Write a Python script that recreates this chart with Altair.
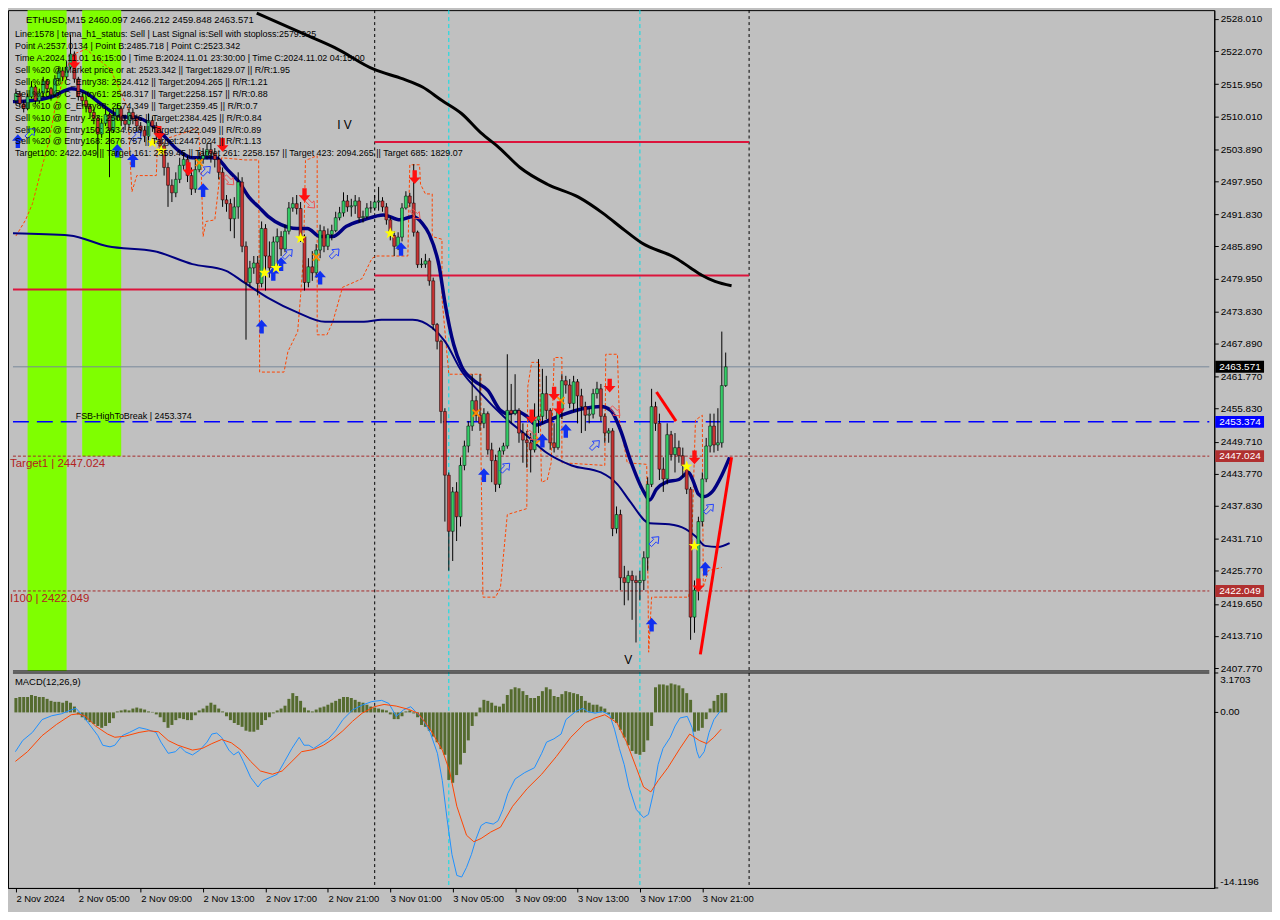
import altair as alt
import pandas as pd

# ---------------- data ----------------
first_open = 2512.9
closes = [2514.2, 2512.3, 2511.4, 2513.6, 2515.4, 2512.9, 2514.3, 2516.5, 2515.1, 2514.0,
          2516.9, 2518.4, 2517.3, 2519.1, 2521.5, 2516.9, 2513.6, 2512.9, 2511.8, 2510.7,
          2509.6, 2506.7, 2508.7, 2510.3, 2507.4, 2510.0, 2511.4, 2509.2, 2508.5, 2510.7,
          2509.6, 2508.2, 2507.4, 2506.3, 2509.2, 2508.2, 2506.7, 2504.5, 2500.5, 2497.2,
          2495.8, 2498.3, 2500.9, 2502.0, 2499.0, 2496.5, 2500.1, 2502.1, 2502.7, 2503.8,
          2503.1, 2502.0, 2499.6, 2494.5, 2493.8, 2491.0, 2493.2, 2497.8, 2485.9, 2479.2,
          2481.9, 2482.8, 2479.0, 2489.2, 2484.1, 2481.9, 2486.7, 2487.7, 2485.4, 2488.7,
          2493.0, 2493.8, 2492.9, 2487.7, 2479.2, 2482.1, 2481.0, 2485.2, 2488.8, 2485.9,
          2488.1, 2488.8, 2491.2, 2492.1, 2494.3, 2493.2, 2493.4, 2494.3, 2491.2, 2491.4,
          2493.0, 2493.0, 2494.1, 2494.3, 2493.2, 2490.8, 2487.9, 2485.9, 2487.6, 2493.0,
          2495.2, 2493.9, 2488.5, 2482.5, 2482.6, 2483.2, 2479.5, 2471.4, 2468.3, 2455.3,
          2443.5, 2433.1, 2440.4, 2435.8, 2445.3, 2448.9, 2452.6, 2457.3, 2454.6, 2453.1,
          2454.9, 2448.2, 2446.2, 2441.8, 2448.0, 2448.9, 2455.5, 2454.9, 2455.5, 2451.3,
          2450.0, 2449.5, 2448.2, 2453.7, 2454.4, 2458.6, 2455.5, 2449.5, 2448.6, 2455.5,
          2461.0, 2460.2, 2456.8, 2460.8, 2458.2, 2456.2, 2454.6, 2454.8, 2458.6, 2459.5,
          2454.4, 2451.3, 2451.7, 2433.6, 2436.2, 2424.5, 2423.6, 2424.9, 2424.0, 2423.6,
          2424.0, 2428.2, 2441.8, 2456.2, 2453.1, 2444.6, 2442.8, 2451.0, 2447.3, 2448.6,
          2447.1, 2445.3, 2440.9, 2417.2, 2422.2, 2434.9, 2442.8, 2448.9, 2452.6, 2449.1,
          2449.5, 2460.097, 2463.571]
highs = [2515.1, 2514.7, 2512.9, 2514.2, 2516.5, 2515.8, 2515.1, 2517.3, 2516.9, 2515.4,
         2517.6, 2519.1, 2519.1, 2520.2, 2525.1, 2522.0, 2517.3, 2514.2, 2513.6, 2512.3,
         2511.4, 2510.0, 2509.6, 2511.4, 2510.7, 2511.4, 2512.3, 2511.8, 2510.3, 2511.4,
         2511.4, 2510.3, 2508.9, 2508.2, 2510.5, 2510.0, 2508.9, 2507.4, 2505.1, 2501.4,
         2498.3, 2499.6, 2502.3, 2503.2, 2502.7, 2500.5, 2502.3, 2503.4, 2504.1, 2504.9,
         2505.1, 2504.1, 2502.7, 2500.5, 2495.4, 2494.7, 2495.0, 2499.6, 2498.7, 2486.8,
         2483.2, 2484.1, 2484.1, 2490.5, 2490.0, 2486.8, 2487.7, 2489.2, 2488.7, 2489.9,
         2494.1, 2495.0, 2495.4, 2494.1, 2488.1, 2483.7, 2485.0, 2486.3, 2489.9, 2489.6,
         2489.2, 2489.9, 2492.3, 2493.2, 2495.9, 2495.4, 2494.7, 2495.4, 2495.0, 2492.5,
         2493.9, 2494.3, 2495.4, 2496.9, 2495.0, 2493.9, 2491.4, 2488.7, 2488.5, 2493.9,
         2496.1, 2495.8, 2501.1, 2488.8, 2483.7, 2484.5, 2483.7, 2480.1, 2471.7, 2468.6,
         2455.9, 2444.0, 2441.3, 2442.2, 2446.8, 2449.9, 2453.5, 2462.2, 2458.2, 2462.2,
         2455.9, 2455.3, 2449.5, 2447.3, 2448.6, 2449.5, 2465.9, 2460.4, 2462.2, 2455.9,
         2453.1, 2451.7, 2451.3, 2456.8, 2465.0, 2463.2, 2461.9, 2455.9, 2453.1, 2456.8,
         2462.2, 2461.9, 2461.3, 2461.9, 2461.3, 2459.5, 2457.1, 2455.9, 2459.5, 2460.8,
         2460.4, 2454.9, 2452.2, 2452.2, 2437.7, 2437.1, 2426.7, 2425.8, 2425.8, 2424.9,
         2425.8, 2429.4, 2443.1, 2459.5, 2457.1, 2454.9, 2446.8, 2453.1, 2451.7, 2451.3,
         2449.9, 2448.6, 2445.8, 2441.3, 2424.0, 2435.8, 2444.0, 2450.4, 2454.9, 2454.9,
         2455.9, 2470.1, 2466.212]
lows = [2512.2, 2511.8, 2510.7, 2511.1, 2513.3, 2512.2, 2512.3, 2513.6, 2514.3, 2512.9,
        2513.6, 2516.5, 2516.5, 2516.9, 2518.7, 2516.2, 2512.9, 2511.8, 2510.7, 2509.6,
        2508.5, 2502.3, 2506.0, 2508.2, 2498.7, 2506.9, 2509.2, 2508.2, 2507.4, 2507.8,
        2508.5, 2507.1, 2506.3, 2505.2, 2505.6, 2507.1, 2505.6, 2503.2, 2499.0, 2493.2,
        2494.1, 2495.0, 2497.6, 2500.1, 2497.8, 2495.4, 2495.8, 2499.6, 2501.2, 2502.0,
        2501.4, 2500.5, 2498.3, 2493.2, 2492.3, 2488.7, 2487.4, 2491.0, 2484.8, 2468.6,
        2478.3, 2480.8, 2476.8, 2478.3, 2477.7, 2480.1, 2480.8, 2481.9, 2484.1, 2484.8,
        2488.1, 2492.3, 2491.8, 2486.7, 2477.7, 2478.3, 2479.5, 2480.1, 2483.7, 2484.8,
        2485.2, 2487.0, 2488.5, 2490.7, 2491.4, 2492.3, 2491.4, 2491.9, 2490.3, 2490.3,
        2491.0, 2492.1, 2492.5, 2492.5, 2492.3, 2489.9, 2487.0, 2484.1, 2485.2, 2486.8,
        2492.7, 2493.2, 2487.7, 2481.9, 2481.9, 2481.9, 2478.6, 2470.4, 2466.8, 2453.1,
        2434.9, 2425.8, 2427.6, 2431.3, 2434.0, 2444.4, 2447.7, 2451.7, 2453.5, 2451.7,
        2452.2, 2447.3, 2442.2, 2440.4, 2441.1, 2447.3, 2448.4, 2453.1, 2454.6, 2449.5,
        2445.8, 2444.9, 2444.0, 2447.7, 2451.3, 2453.1, 2453.9, 2448.2, 2447.7, 2448.2,
        2453.9, 2458.6, 2455.9, 2455.3, 2453.1, 2451.3, 2451.7, 2453.1, 2454.0, 2457.7,
        2453.5, 2449.5, 2449.5, 2432.2, 2432.7, 2422.2, 2419.4, 2420.3, 2416.7, 2412.5,
        2420.3, 2422.2, 2425.8, 2441.3, 2451.7, 2442.6, 2440.4, 2441.8, 2446.2, 2444.0,
        2445.8, 2443.1, 2440.0, 2413.0, 2414.3, 2420.3, 2434.0, 2442.2, 2447.7, 2447.7,
        2448.0, 2448.6, 2459.848]

x_tick_pos = [0, 16, 32, 48, 64, 80, 96, 112, 128, 144, 160, 176]
x_tick_labels = ["2 Nov 2024", "2 Nov 05:00", "2 Nov 09:00", "2 Nov 13:00", "2 Nov 17:00",
                 "2 Nov 21:00", "3 Nov 01:00", "3 Nov 05:00", "3 Nov 09:00", "3 Nov 13:00",
                 "3 Nov 17:00", "3 Nov 21:00"]
y_ticks = [2528.010, 2522.070, 2515.950, 2510.010, 2503.890, 2497.950, 2491.830, 2485.890,
           2479.950, 2473.830, 2467.890, 2461.770, 2455.830, 2449.710, 2443.770, 2437.830,
           2431.710, 2425.770, 2419.650, 2413.710, 2407.770]
macd_ticks = [3.1703, 0.0, -14.1196]
macd_tick_labels = ["3.1703", "0.00", "-14.1196"]

x_lo, x_hi = -0.75, 306.0
p_lo, p_hi = 2407.22, 2529.65
m_lo, m_hi = -14.1196, 3.1703

black_i = [61.75, 74.25, 81.75, 91.75, 99.25, 104.25, 109.25, 114.25, 119.25, 124.0, 129.25,
           136.25, 144.25, 150.75, 155.5, 160.5, 169.25, 173.0, 176.0, 179.25, 183.5]
black_p = [2529.1, 2525.1, 2522.7, 2518.7, 2516.9, 2515.4, 2512.9, 2510.5, 2506.9, 2504.1, 2500.5,
           2497.4, 2495.0, 2491.9, 2489.2, 2486.5, 2483.7, 2481.9, 2480.5, 2479.4, 2478.6]

fast_i = [-0.75, 4.25, 9.25, 14.25, 18.0, 21.75, 26.75, 31.75, 36.75, 41.75, 45.25, 51.25, 54.25,
          57.25, 59.75, 62.25, 64.75, 68.0, 72.0, 74.75, 78.0, 81.25, 84.75, 89.25, 94.25, 98.5,
          101.75, 104.25, 106.0, 108.5, 110.0, 112.25, 114.25, 117.5, 121.0, 124.25, 126.0, 128.5,
          131.0, 133.5, 136.75, 141.0, 146.0, 150.0, 152.5, 155.0, 157.5, 161.0, 162.5, 164.25,
          166.75, 170.0, 172.5, 173.5, 175.0, 176.25, 178.5, 181.0, 183.0]
fast_p = [2512.7, 2512.9, 2513.6, 2515.1, 2514.3, 2512.3, 2510.0, 2509.6, 2507.2, 2503.6, 2502.3,
          2502.3, 2500.1, 2497.8, 2495.0, 2493.2, 2491.4, 2489.9, 2489.2, 2489.2, 2487.7, 2487.7,
          2489.6, 2490.8, 2491.7, 2490.8, 2491.4, 2490.1, 2488.1, 2482.3, 2475.5, 2467.7, 2463.7,
          2461.0, 2459.2, 2455.5, 2454.9, 2455.3, 2454.4, 2452.8, 2453.7, 2454.9, 2455.9, 2456.2,
          2455.5, 2451.9, 2446.4, 2440.4, 2438.9, 2440.9, 2442.2, 2442.7, 2444.0, 2442.7, 2440.0,
          2439.5, 2440.4, 2443.5, 2446.8]

slow_i = [-0.75, 13.75, 23.5, 35.5, 45.25, 53.75, 58.5, 64.75, 72.0, 79.25, 89.25, 93.75, 101.75,
          106.75, 110.0, 114.25, 119.25, 125.0, 131.0, 136.0, 142.5, 150.0, 154.25, 157.5, 162.5,
          167.5, 171.75, 174.25, 176.75, 180.0, 183.0]
slow_p = [2488.3, 2487.9, 2485.9, 2485.0, 2482.6, 2481.4, 2479.2, 2476.3, 2473.7, 2471.9, 2471.9,
          2472.3, 2472.3, 2470.8, 2468.3, 2462.8, 2458.6, 2454.4, 2450.8, 2447.7, 2445.3, 2444.0,
          2441.8, 2438.6, 2434.6, 2434.4, 2433.5, 2432.2, 2430.4, 2430.2, 2430.9]

orange_i = [0, 2.5, 4.25, 6.0, 8.5, 10.0, 11.75, 13.5, 14.75, 18.0,
            24.25, 28.75, 29.25, 29.75, 31.0, 36.0, 36.25, 39.25, 43.0, 46.75,
            47.5, 48.0, 48.75, 51.0, 52.25, 52.75, 58.75, 62.25, 62.5, 68.75,
            69.75, 72.25, 73.0, 73.75, 74.25, 77.25, 77.25, 79.75, 81.25, 83.75,
            88.75, 91.25, 92.25, 100.5, 101.0, 103.5, 103.75, 105.0, 106.75, 106.75,
            109.25, 109.25, 111.0, 119.25, 119.25, 119.75, 123.0, 124.25, 126.0, 131.0,
            131.25, 132.25, 134.25, 134.75, 136.25, 137.25, 138.0, 140.0, 140.0, 151.0,
            151.25, 154.25, 154.75, 156.75, 161.75, 162.25, 163.0, 172.5, 173.0, 174.25,
            176.0, 176.25, 177.5, 181.0]
orange_p = [2487.8, 2490.8, 2493.8, 2498.7, 2505.4, 2511.4, 2516.0, 2519.6, 2521.5, 2522.4,
            2518.7, 2511.4, 2502.3, 2496.0, 2499.0, 2499.0, 2504.1, 2506.0, 2506.9, 2507.8,
            2500.5, 2487.7, 2490.5, 2490.8, 2498.7, 2502.3, 2501.9, 2501.9, 2462.6, 2462.6,
            2466.4, 2470.1, 2476.8, 2484.1, 2501.8, 2502.7, 2469.5, 2469.5, 2471.9, 2478.3,
            2479.9, 2483.6, 2484.1, 2484.1, 2501.0, 2501.0, 2497.4, 2495.6, 2495.6, 2487.7,
            2487.2, 2476.3, 2462.2, 2462.2, 2447.7, 2420.9, 2420.9, 2422.7, 2436.2, 2437.3,
            2459.9, 2464.4, 2464.4, 2442.2, 2442.6, 2445.8, 2465.3, 2465.3, 2445.8, 2445.3,
            2465.9, 2465.9, 2453.7, 2445.8, 2445.5, 2410.7, 2420.9, 2420.9, 2424.0, 2453.7,
            2454.6, 2422.7, 2425.8, 2426.4]

up_i = [0.5, 26.0, 30.0, 48.0, 63.0, 66.0, 68.0, 78.0, 98.75, 120.0, 135.0, 141.0, 163.0, 176.75]
up_p = [2505.4, 2503.6, 2501.8, 2496.3, 2471.0, 2480.8, 2482.6, 2480.1, 2485.4, 2443.5, 2449.9,
        2451.7, 2415.8, 2426.2]
down_i = [15.0, 36.75, 44.25, 53.0, 74.0, 102.25, 132.25, 138.0, 139.25, 152.25, 174.0, 175.0]
down_p = [2520.0, 2506.9, 2500.2, 2504.7, 2495.4, 2498.7, 2454.4, 2458.6, 2455.9, 2460.1, 2446.8,
          2423.1]
star_i = [35.0, 37.25, 63.75, 66.75, 73.0, 96.0, 172.0, 174.0]
star_p = [2505.1, 2503.6, 2481.0, 2481.9, 2487.4, 2488.3, 2445.1, 2430.4]
xmark_i = [47.0, 77.0, 118.0, 134.25, 139.75]
xmark_p = [2501.4, 2483.9, 2455.0, 2450.0, 2457.3]
hup_i = [3.75, 31.0, 48.75, 69.75, 81.75, 125.5, 148.5, 163.75, 177.75]
hup_p = [2506.9, 2506.3, 2499.9, 2484.5, 2484.6, 2444.9, 2449.1, 2431.3, 2437.3]
hdn_i = [54.75, 75.5, 102.5, 132.5, 153.75]
hdn_p = [2498.1, 2493.8, 2491.8, 2450.8, 2455.3]

trend_id = [0, 0, 1, 1]
trend_i = [164.25, 169.25, 175.5, 183.5]
trend_p = [2458.9, 2453.5, 2410.3, 2446.8]

seg_x0 = [-0.75, 92, 92]
seg_x1 = [92, 188, 188]
seg_p = [2477.9, 2505.2, 2480.5]

band_x0 = [3, 17]
band_x1 = [13, 27]
band_bottom = [2407.22, 2447.024]
band_top = [2529.65, 2529.65]

day_sep = [92, 188]
cyan_sep = [111, 160]

current_price = 2463.571
fsb_level = 2453.374
target1 = 2447.024
target100 = 2422.049

hist = [1.16, 1.24, 1.24, 1.24, 1.40, 1.32, 1.24, 1.24, 1.09, 0.93,
        0.85, 0.85, 0.78, 0.93, 0.78, 0.47, -0.16, -0.39, -0.62, -0.78,
        -0.93, -1.09, -1.24, -1.09, -0.85, -0.47, 0.08, 0.16, 0.23, 0.16,
        0.31, 0.39, 0.31, 0.23, 0.08, 0.04, -0.16, -0.39, -0.78, -1.24,
        -1.01, -0.62, -0.47, -0.54, -0.62, -0.62, -0.23, 0.16, 0.31, 0.54,
        0.78, 0.62, 0.31, 0.08, -0.31, -0.62, -0.85, -1.01, -1.16, -1.47,
        -1.55, -1.55, -1.40, -1.01, -0.62, -0.39, -0.08, 0.16, 0.31, 0.54,
        1.09, 1.55, 1.32, 0.93, 0.39, 0.16, 0.08, 0.23, 0.39, 0.47,
        0.62, 0.78, 0.93, 1.09, 1.24, 1.24, 1.16, 1.01, 0.85, 0.78,
        0.62, 0.47, 0.39, 0.31, 0.23, 0.16, -0.16, -0.54, -0.54, -0.31,
        0.08, 0.16, -0.08, -0.39, -1.01, -1.16, -1.47, -1.94, -2.40, -2.95,
        -3.41, -5.43, -5.66, -5.04, -4.19, -3.26, -2.25, -1.09, -0.31, 0.39,
        1.01, 0.93, 0.78, 0.54, 0.47, 0.70, 1.40, 1.86, 2.02, 1.94,
        1.71, 1.40, 1.16, 1.16, 1.32, 1.71, 2.02, 1.86, 1.32, 1.24,
        1.47, 1.71, 1.63, 1.55, 1.47, 1.32, 0.93, 0.78, 0.62, 0.62,
        0.47, 0.31, -0.16, -0.54, -0.85, -1.40, -2.02, -2.64, -3.10, -3.33,
        -3.41, -3.18, -2.25, -1.09, 2.02, 2.25, 2.25, 2.17, 2.33, 2.25,
        2.17, 1.94, 1.55, 1.01, -1.55, -1.47, -1.24, -0.54, 0.31, 0.93,
        1.40, 1.55, 1.55]

blue_i = [-0.13, 1.74, 4.23, 6.71, 9.20, 11.69, 14.18, 15.42, 17.28, 19.15,
          21.02, 22.26, 24.13, 25.37, 27.24, 29.10, 31.59, 33.45, 35.94, 37.19,
          39.05, 40.92, 42.16, 43.40, 45.27, 47.14, 49.00, 50.24, 51.49, 52.73,
          54.60, 55.84, 57.09, 58.33, 60.19, 62.06, 63.30, 65.17, 67.04, 68.90,
          70.77, 72.63, 73.88, 75.12, 76.36, 78.23, 80.10, 81.96, 83.83, 86.32,
          88.80, 91.29, 93.78, 95.64, 97.51, 99.37, 101.24, 102.48, 104.35, 106.22,
          108.08, 109.33, 110.57, 111.81, 113.06, 114.30, 115.55, 116.79, 118.03, 119.28,
          120.52, 122.39, 123.63, 124.87, 126.12, 127.99, 130.47, 132.96, 134.82, 136.07,
          137.93, 139.80, 141.04, 143.53, 145.39, 146.64, 148.51, 150.37, 152.24, 153.48,
          154.73, 155.97, 157.21, 159.08, 160.94, 162.19, 163.43, 164.67, 165.92, 167.79,
          169.03, 170.27, 172.14, 173.38, 174.63, 175.25, 176.49, 177.74, 178.98, 180.84]
blue_v = [-3.16, -2.26, -1.61, -0.58, -0.27, -0.11, 0.20, 0.33, -0.32, -1.09,
          -1.87, -2.64, -2.77, -2.64, -1.87, -1.61, -1.22, -1.35, -1.61, -2.39,
          -3.29, -3.16, -2.77, -3.16, -3.42, -3.03, -2.39, -1.74, -1.66, -2.00,
          -3.03, -3.42, -3.16, -3.94, -5.23, -6.00, -5.49, -5.23, -4.97, -3.94,
          -2.90, -2.00, -2.64, -2.64, -2.90, -2.51, -2.13, -1.48, -0.58, 0.20,
          0.59, 0.87, 0.97, 0.72, -0.32, 0.20, 0.46, 0.07, -0.58, -1.61,
          -3.29, -5.49, -8.59, -11.43, -13.11, -13.24, -12.46, -11.43, -10.14, -9.10,
          -8.85, -8.98, -8.72, -7.81, -6.52, -5.36, -4.84, -4.45, -3.29, -2.39,
          -2.13, -1.74, -0.58, 0.07, 0.33, 0.07, -0.06, 0.07, -0.19, -1.35,
          -2.90, -4.19, -6.00, -7.81, -8.46, -8.20, -6.52, -4.19, -2.90, -2.00,
          -1.09, -0.45, -0.32, -1.22, -3.16, -3.68, -3.16, -1.61, -0.58, 0.20]
red_i = [-0.13, 2.98, 6.71, 10.44, 14.18, 16.04, 17.91, 20.39, 23.50, 25.37,
         27.86, 31.59, 34.08, 36.56, 39.05, 41.54, 45.27, 47.76, 50.24, 52.73,
         55.22, 57.71, 60.19, 62.68, 65.79, 68.28, 70.77, 73.26, 76.36, 78.85,
         81.34, 83.83, 86.32, 88.80, 91.91, 94.40, 97.51, 100.62, 103.11, 106.22,
         109.33, 111.19, 113.06, 115.55, 117.41, 119.28, 121.76, 124.25, 127.36, 131.09,
         134.82, 138.56, 142.29, 146.02, 148.51, 151.00, 154.10, 156.59, 159.08, 160.94,
         162.81, 164.67, 167.16, 170.27, 172.76, 175.25, 177.12, 178.98, 180.84]
red_v = [-3.94, -3.16, -1.87, -0.96, -0.19, -0.11, -0.32, -1.09, -1.74, -2.00,
         -1.92, -1.61, -1.48, -1.56, -2.26, -2.64, -3.03, -2.90, -2.51, -2.18,
         -2.44, -3.03, -3.94, -4.71, -4.97, -4.71, -3.94, -3.16, -2.98, -2.64,
         -2.13, -1.48, -0.71, -0.06, 0.46, 0.64, 0.51, 0.25, -0.06, -1.35,
         -3.03, -4.71, -7.55, -9.88, -10.40, -10.14, -9.62, -9.23, -7.55, -6.13,
         -4.97, -3.55, -2.00, -0.83, -0.45, -0.19, -0.83, -2.39, -4.45, -6.00,
         -6.39, -5.49, -4.45, -2.90, -1.74, -2.26, -2.51, -2.00, -1.35]

info_title = "ETHUSD,M15  2460.097 2466.212 2459.848 2463.571"
info_lines = [
    "Line:1578 | tema_h1_status: Sell | Last Signal is:Sell with stoploss:2579.925",
    "Point A:2537.0134 | Point B:2485.718 | Point C:2523.342",
    "Time A:2024.11.01 16:15:00 | Time B:2024.11.01 23:30:00 | Time C:2024.11.02 04:15:00",
    "Sell %20 @ Market price or at: 2523.342 || Target:1829.07 || R/R:1.95",
    "Sell %10 @ C_Entry38: 2524.412 || Target:2094.265 || R/R:1.21",
    "Sell %10 @ C_Entry61: 2548.317 || Target:2258.157 || R/R:0.88",
    "Sell %10 @ C_Entry88: 2574.349 || Target:2359.45 || R/R:0.7",
    "Sell %10 @ Entry -23: 2500.016 || Target:2384.425 || R/R:0.84",
    "Sell %20 @ Entry150: 2634.698 || Target:2422.049 || R/R:0.89",
    "Sell %20 @ Entry168: 2676.757 || Target:2447.024 || R/R:1.13",
    "Target100: 2422.049 || Target 161: 2359.45 || Target 261: 2258.157 || Target 423: 2094.265 || Target 685: 1829.07",
]

# ---------------- layout: one layered chart, price panel on top, MACD below ----------------
W = 1212
H1 = 664           # price panel height (px)
H2 = 216           # MACD panel height (px)
HT = 882           # whole plot height (price panel + 2px gap + MACD panel)
FONT = "Liberation Sans"

p_lo_ext = p_hi - (p_hi - p_lo) * HT / H1      # price scale stretched so p_lo sits at the panel bottom
m_hi_ext = m_lo + (m_hi - m_lo) * HT / H2      # MACD scale stretched so m_hi sits at the panel top

n = min(len(closes), len(highs), len(lows))
opens = [first_open] + closes[:n - 1]
candles = pd.DataFrame({"i": list(range(n)), "open": opens[:n], "close": closes[:n],
                        "high": highs[:n], "low": lows[:n]})

xlab = " : ".join("datum.value == %d ? '%s'" % (v, s) for v, s in zip(x_tick_pos, x_tick_labels)) + " : ''"
xaxis = alt.Axis(values=x_tick_pos, labelExpr=xlab, labelAlign="left", tickSize=4, labelFlush=False,
                 labelPadding=2, title=None, grid=False, labelFontSize=9.5, labelFont=FONT)
xs = alt.Scale(domain=[x_lo, x_hi], nice=False, zero=False)
ys = alt.Scale(domain=[p_lo_ext, p_hi], nice=False, zero=False)
ms = alt.Scale(domain=[m_lo, m_hi_ext], nice=False, zero=False)
yaxis = alt.Axis(orient="right", values=y_ticks, format=".3f", title=None, tickSize=4,
                 labelPadding=2, labelFontSize=10, labelFont=FONT, grid=False)


def X(f):
    return alt.X(f, scale=xs, axis=xaxis)


def Y(f):
    return alt.Y(f, scale=ys, axis=yaxis)


def MY(f):
    return alt.Y(f, scale=ms, axis=None)


def vrules(xvals, top, bottom):
    return pd.DataFrame({"i": xvals, "top": [top] * len(xvals), "bottom": [bottom] * len(xvals)})


def hrules(pvals):
    return pd.DataFrame({"p": pvals, "x0": [x_lo] * len(pvals), "x1": [x_hi] * len(pvals)})


bands = alt.Chart(pd.DataFrame({"x0": band_x0, "x1": band_x1, "top": band_top, "bottom": band_bottom})
                  ).mark_rect(color="#7FFF00").encode(x=X("x0:Q"), x2="x1:Q", y=Y("top:Q"), y2="bottom:Q")
day_rules = alt.Chart(vrules(day_sep, p_hi, p_lo_ext)).mark_rule(
    color="black", strokeDash=[3, 3], strokeWidth=1).encode(x=X("i:Q"), y=Y("top:Q"), y2="bottom:Q")
cyan_rules = alt.Chart(vrules(cyan_sep, p_hi, p_lo_ext)).mark_rule(
    color="#00E0E8", strokeDash=[4, 3], strokeWidth=1).encode(x=X("i:Q"), y=Y("top:Q"), y2="bottom:Q")
cur_rule = alt.Chart(hrules([current_price])).mark_rule(
    color="#778899", strokeWidth=1).encode(x=X("x0:Q"), x2="x1:Q", y=Y("p:Q"))
fsb_rule = alt.Chart(hrules([fsb_level])).mark_rule(
    color="#0000FF", strokeWidth=1.5, strokeDash=[16, 8]).encode(x=X("x0:Q"), x2="x1:Q", y=Y("p:Q"))
tgt_rules = alt.Chart(hrules([target1, target100])).mark_rule(
    color="#A52A2A", strokeWidth=1, strokeDash=[3, 2]).encode(x=X("x0:Q"), x2="x1:Q", y=Y("p:Q"))
panel_edge = alt.Chart(hrules([p_lo])).mark_rule(color="black", strokeWidth=1).encode(
    x=X("x0:Q"), x2="x1:Q", y=Y("p:Q"))
segs = alt.Chart(pd.DataFrame({"x0": seg_x0, "x1": seg_x1, "p": seg_p})).mark_rule(
    color="#DC143C", strokeWidth=2).encode(x=X("x0:Q"), x2="x1:Q", y=Y("p:Q"))

orange = alt.Chart(pd.DataFrame({"i": orange_i, "p": orange_p, "s": list(range(len(orange_i)))})
                   ).mark_line(color="#FF4500", strokeWidth=1, strokeDash=[3, 2]).encode(
    x=X("i:Q"), y=Y("p:Q"), order="s:Q")
slow = alt.Chart(pd.DataFrame({"i": slow_i, "p": slow_p})).mark_line(
    color="#000080", strokeWidth=2, interpolate="monotone").encode(x=X("i:Q"), y=Y("p:Q"))
fast = alt.Chart(pd.DataFrame({"i": fast_i, "p": fast_p})).mark_line(
    color="#000080", strokeWidth=3.5, interpolate="monotone").encode(x=X("i:Q"), y=Y("p:Q"))
black = alt.Chart(pd.DataFrame({"i": black_i, "p": black_p})).mark_line(
    color="black", strokeWidth=3, interpolate="monotone").encode(x=X("i:Q"), y=Y("p:Q"))

wicks = alt.Chart(candles).mark_rule(color="black", strokeWidth=1).encode(
    x=X("i:Q"), y=Y("low:Q"), y2="high:Q")
bodies = alt.Chart(candles).mark_bar(size=3, stroke="black", strokeWidth=0.5).encode(
    x=X("i:Q"), y=Y("open:Q"), y2="close:Q",
    color=alt.condition("datum.close >= datum.open", alt.value("#33CC66"), alt.value("#C83232")))
trend = alt.Chart(pd.DataFrame({"g": trend_id, "i": trend_i, "p": trend_p})).mark_line(
    color="#FF0000", strokeWidth=3).encode(x=X("i:Q"), y=Y("p:Q"), detail="g:N")

UP = "M0,-1L0.85,-0.05L0.32,-0.05L0.32,1L-0.32,1L-0.32,-0.05L-0.85,-0.05Z"
DOWN = "M0,1L0.85,0.05L0.32,0.05L0.32,-1L-0.32,-1L-0.32,0.05L-0.85,0.05Z"
UPRIGHT = "M0.71,-0.71L-0.46,-0.6L-0.14,-0.28L-0.92,0.49L-0.49,0.92L0.28,0.14L0.6,0.46Z"
DOWNRIGHT = "M0.71,0.71L0.6,-0.46L0.28,-0.14L-0.49,-0.92L-0.92,-0.49L-0.14,0.28L-0.46,0.6Z"
XMARK = "M-1,-0.7L-0.7,-1L0,-0.3L0.7,-1L1,-0.7L0.3,0L1,0.7L0.7,1L0,0.3L-0.7,1L-1,0.7L-0.3,0Z"
STAR = ("M0,-1L0.235,-0.324L0.951,-0.309L0.38,0.124L0.588,0.809L0,0.4L-0.588,0.809"
        "L-0.38,0.124L-0.951,-0.309L-0.235,-0.324Z")

ups = alt.Chart(pd.DataFrame({"i": up_i, "p": up_p})).mark_point(
    shape=UP, filled=True, size=190, color="#1030F0", opacity=1).encode(x=X("i:Q"), y=Y("p:Q"))
downs = alt.Chart(pd.DataFrame({"i": down_i, "p": down_p})).mark_point(
    shape=DOWN, filled=True, size=190, color="#FF1010", opacity=1).encode(x=X("i:Q"), y=Y("p:Q"))
stars = alt.Chart(pd.DataFrame({"i": star_i, "p": star_p})).mark_point(
    shape=STAR, filled=True, size=150, color="#FFFF00", opacity=1).encode(x=X("i:Q"), y=Y("p:Q"))
xmarks = alt.Chart(pd.DataFrame({"i": xmark_i, "p": xmark_p})).mark_point(
    shape=XMARK, filled=True, size=70, color="#FF8C00", opacity=1).encode(x=X("i:Q"), y=Y("p:Q"))
hups = alt.Chart(pd.DataFrame({"i": hup_i, "p": hup_p})).mark_point(
    shape=UPRIGHT, filled=False, size=150, color="#2040FF", strokeWidth=1, opacity=1
).encode(x=X("i:Q"), y=Y("p:Q"))
hdns = alt.Chart(pd.DataFrame({"i": hdn_i, "p": hdn_p})).mark_point(
    shape=DOWNRIGHT, filled=False, size=150, color="#F05050", strokeWidth=1, opacity=1
).encode(x=X("i:Q"), y=Y("p:Q"))

text_layers = [alt.Chart(pd.DataFrame({"t": [info_title]})).mark_text(
    align="left", baseline="middle", font=FONT, fontSize=9.5, color="black").encode(
    text="t:N", x=alt.value(18), y=alt.value(10))]
for k, line in enumerate(info_lines):
    text_layers.append(alt.Chart(pd.DataFrame({"t": [line]})).mark_text(
        align="left", baseline="middle", font=FONT, fontSize=9, color="black").encode(
        text="t:N", x=alt.value(7), y=alt.value(24 + 12 * k)))

fsb_txt = alt.Chart(pd.DataFrame({"p": [fsb_level], "t": ["FSB-HighToBreak | 2453.374"]})).mark_text(
    align="left", baseline="middle", font=FONT, fontSize=9, color="black", dy=-6).encode(
    text="t:N", x=alt.value(68), y=Y("p:Q"))
tgt_txt = alt.Chart(pd.DataFrame({"p": [target1, target100],
                                  "t": ["Target1 | 2447.024", "I100 | 2422.049"]})).mark_text(
    align="left", baseline="middle", font=FONT, fontSize=11.5, color="#B22222", dy=8).encode(
    text="t:N", x=alt.value(2), y=Y("p:Q"))
wave_txt = alt.Chart(pd.DataFrame({"i": [84.25, 157.0], "p": [2508.3, 2409.2], "t": ["I V", "V"]})
                     ).mark_text(font=FONT, fontSize=12, color="black").encode(
    x=X("i:Q"), y=Y("p:Q"), text="t:N")

box_df = pd.DataFrame({"p": [current_price, fsb_level, target1, target100],
                       "t": ["2463.571", "2453.374", "2447.024", "2422.049"],
                       "c": ["#000000", "#0000FF", "#B03030", "#B03030"]})
boxes = alt.Chart(box_df).mark_rule(strokeWidth=12).encode(
    x=alt.value(W + 1), x2=alt.value(W + 50), y=Y("p:Q"), color=alt.Color("c:N", scale=None))
box_txt = alt.Chart(box_df).mark_text(align="left", baseline="middle", font=FONT, fontSize=10,
                                      color="white").encode(
    x=alt.value(W + 5), y=Y("p:Q"), text="t:N")

price_panel = alt.layer(bands, day_rules, cyan_rules, cur_rule, fsb_rule, tgt_rules, panel_edge, segs,
                        orange, slow, fast, black, wicks, bodies, trend, hups, hdns, xmarks,
                        ups, downs, stars, *text_layers, fsb_txt, tgt_txt, wave_txt, boxes, box_txt)

# MACD panel (own y scale)
hist_df = pd.DataFrame({"i": list(range(len(hist))), "v": hist, "z": [0.0] * len(hist)})
m_edge = alt.Chart(pd.DataFrame({"v": [m_hi], "x0": [x_lo], "x1": [x_hi]})).mark_rule(
    color="black", strokeWidth=1).encode(x=X("x0:Q"), x2="x1:Q", y=MY("v:Q"))
m_hist = alt.Chart(hist_df).mark_bar(size=3, color="#556B2F").encode(
    x=X("i:Q"), y=MY("z:Q"), y2="v:Q")
m_blue = alt.Chart(pd.DataFrame({"i": blue_i, "v": blue_v})).mark_line(
    color="#1E90FF", strokeWidth=1).encode(x=X("i:Q"), y=MY("v:Q"))
m_red = alt.Chart(pd.DataFrame({"i": red_i, "v": red_v})).mark_line(
    color="#FF4500", strokeWidth=1).encode(x=X("i:Q"), y=MY("v:Q"))
m_txt = alt.Chart(pd.DataFrame({"t": ["MACD(12,26,9)"]})).mark_text(
    align="left", baseline="middle", font=FONT, fontSize=9.5, color="black").encode(
    text="t:N", x=alt.value(7), y=alt.value(H1 + 2 + 9))
m_ticks = alt.Chart(pd.DataFrame({"v": macd_ticks})).mark_rule(color="black", strokeWidth=1).encode(
    x=alt.value(W), x2=alt.value(W + 4), y=MY("v:Q"))
m_labels = []
for v, s, d in zip(macd_ticks, macd_tick_labels, [7, 0, -6]):
    m_labels.append(alt.Chart(pd.DataFrame({"v": [v], "t": [s]})).mark_text(
        align="left", baseline="middle", font=FONT, fontSize=10, color="black", dy=d).encode(
        x=alt.value(W + 6), y=MY("v:Q"), text="t:N"))

macd_panel = alt.layer(m_edge, m_hist, m_blue, m_red, m_txt, m_ticks, *m_labels)

chart = alt.layer(price_panel, macd_panel).resolve_scale(y="independent").properties(
    width=W, height=HT, autosize=alt.AutoSizeParams(type="none"),
    padding={"left": 0, "top": 0, "right": 58, "bottom": 22}
).configure(background="#C0C0C0").configure_view(stroke="black", fill="#C0C0C0").configure_axis(
    domainColor="black", tickColor="black", labelColor="black")

chart.save("out.html", embed_options={"renderer": "svg", "actions": False})
